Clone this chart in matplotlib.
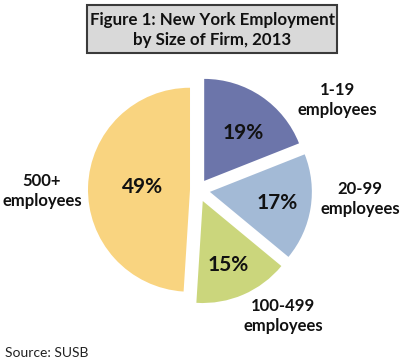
import matplotlib.pyplot as plt
from matplotlib.patches import Rectangle

plt.rcParams['font.family'] = ['Lato', 'DejaVu Sans']

# data
groups = ['1-19\nemployees', '20-99\nemployees', '100-499\nemployees', '500+\nemployees']
shares = [19, 17, 15, 49]
colors = ['#6c75aa', '#a3bad6', '#cbd67c', '#f9d480']
title = 'Figure 1: New York Employment\nby Size of Firm, 2013'
source = 'Source: SUSB'

# layout (pixel units, measured from top-left)
W, H = 420, 363
explode = [11, 12, 12, 8]
label_pos = [(337, 100), (360, 199), (283, 316), (42, 191)]
pct_pos = [(243, 133), (277, 203), (228, 265), (143, 187)]

fig = plt.figure(figsize=(4.2, 3.63), dpi=100)
ax = fig.add_axes([0, 0, 1, 1])

ax.pie(shares, colors=colors, explode=explode, startangle=90,
       counterclock=False, center=(198, H - 190), radius=102,
       wedgeprops={'linewidth': 0})

for (x, y), s in zip(pct_pos, shares):
    ax.text(x, H - y, f'{s}%', ha='center', va='center',
            fontsize=15, fontweight='bold', color='#111111')

for (x, y), g in zip(label_pos, groups):
    ax.text(x, H - y, g, ha='center', va='center', fontsize=12,
            fontweight='bold', color='#111111', linespacing=1.25)

# title box
ax.add_patch(Rectangle((87, H - 53), 250, 48, facecolor='#d9d9d9',
                       edgecolor='#3a3a3a', linewidth=1.5))
ax.text(212, H - 30, title, ha='center', va='center', fontsize=12.2,
        fontweight='bold', color='#111111', linespacing=1.3)

ax.text(5, H - 353, source, ha='left', va='center', fontsize=10,
        color='#222222')

ax.set_xlim(0, W)
ax.set_ylim(0, H)
ax.set_aspect('equal')
ax.axis('off')

fig.savefig('out.png', dpi=100)
